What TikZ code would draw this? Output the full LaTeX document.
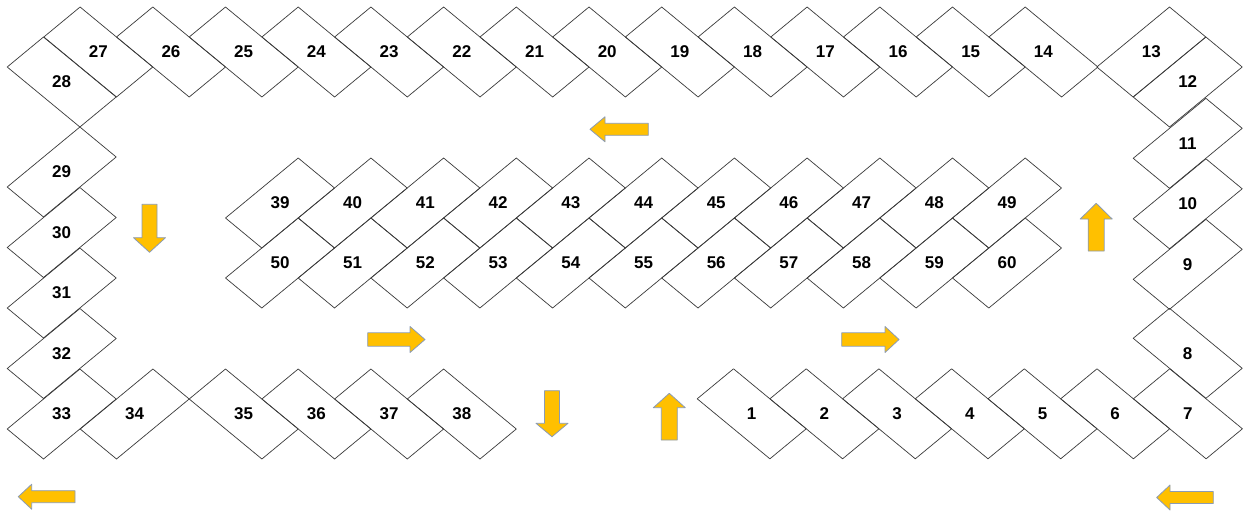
\documentclass[tikz,border=0pt]{standalone}
\usepackage{fontspec}
\setmainfont{Liberation Sans}
\usetikzlibrary{calc}

\begin{document}
\begin{tikzpicture}[
    x=1pt,
    y=-1pt,
    line join=round,
    slot/.style={draw=slotgray, line width=0.7pt},
    num/.style={font=\fontsize{17}{20}\selectfont\bfseries, text=black, inner sep=0pt},
    flow/.style={fill=flowyellow, draw=flowedge, line width=0.8pt}
]

% -------------------------------------------------
% Palette
% -------------------------------------------------
\definecolor{slotgray}{HTML}{3A3A3A}   % stall outline
\definecolor{flowyellow}{HTML}{FFC000} % driving arrows
\definecolor{flowedge}{HTML}{8A9BB5}   % arrow rim

\useasboundingbox[fill=white] (0,0) rectangle (1247,512);

% -------------------------------------------------
% Stall shapes (A leans down-right, B leans up-right)
% -------------------------------------------------
\def\slotA#1#2{(#1-18.2,#2-45) -- ++(72.7,60) -- ++(-36.3,30) -- ++(-72.7,-60) -- cycle}
\def\slotB#1#2{(#1+18.2,#2-45) -- ++(36.3,30) -- ++(-72.7,60) -- ++(-36.3,-30) -- cycle}

% -------------------------------------------------
% Top row 27 ... 14
% -------------------------------------------------
\foreach \n [count=\i from 0, evaluate=\i as \cx using 98.3+72.7*\i] in {27,26,...,14} {
    \draw[slot] \slotA{\cx}{52};
    \node[num] (s\n) at (\cx,52) {\n};
}

% Corners
\draw[slot] \slotA{61.7}{82};
\node[num] (s28) at (61.7,82) {28};
\draw[slot] \slotB{1151.3}{52};
\node[num] (s13) at (1151.3,52) {13};
\draw[slot] \slotB{1187.7}{82};
\node[num] (s12) at (1187.7,82) {12};

% -------------------------------------------------
% Right column 11 ... 8
% -------------------------------------------------
\foreach \n/\cy in {11/143.3,10/203.8,9/264.3} {
    \draw[slot] \slotB{1187.7}{\cy};
    \node[num] (s\n) at (1187.7,\cy) {\n};
}
\draw[slot] \slotA{1187.7}{353.3};
\node[num] (s8) at (1187.7,353.3) {8};

% -------------------------------------------------
% Bottom right 1 ... 7
% -------------------------------------------------
\foreach \n [count=\i from 0, evaluate=\i as \cx using 751.7+72.7*\i] in {1,...,7} {
    \draw[slot] \slotA{\cx}{413.8};
    \node[num] (s\n) at (\cx,413.8) {\n};
}

% -------------------------------------------------
% Left column 29 ... 33, bottom left 34 ... 38
% -------------------------------------------------
\foreach \n [count=\i from 0, evaluate=\i as \cy using 172+60.5*\i] in {29,...,33} {
    \draw[slot] \slotB{61.7}{\cy};
    \node[num] (s\n) at (61.7,\cy) {\n};
}
\draw[slot] \slotB{134.7}{414};
\node[num] (s34) at (134.7,414) {34};
\foreach \n [count=\i from 0, evaluate=\i as \cx using 243.7+72.7*\i] in {35,...,38} {
    \draw[slot] \slotA{\cx}{414};
    \node[num] (s\n) at (\cx,414) {\n};
}

% -------------------------------------------------
% Middle island 39 ... 60
% -------------------------------------------------
\foreach \n [count=\i from 0, evaluate=\i as \cx using 280+72.7*\i] in {39,...,49} {
    \draw[slot] \slotB{\cx}{203};
    \node[num] (s\n) at (\cx,203) {\n};
}
\foreach \n [count=\i from 0, evaluate=\i as \cx using 280+72.7*\i] in {50,...,60} {
    \draw[slot] \slotB{\cx}{263};
    \node[num] (s\n) at (\cx,263) {\n};
}

% -------------------------------------------------
% Driving direction arrows
% -------------------------------------------------
% left
\foreach \tip/\base/\tail/\y in {590/605/648.3/129.3, 18.3/31.7/75/496.7, 1156.7/1170/1213.3/497.5} {
    \draw[flow] (\tip,\y) -- (\base,\y-12.5) -- (\base,\y-6) -- (\tail,\y-6)
        -- (\tail,\y+6) -- (\base,\y+6) -- (\base,\y+12.5) -- cycle;
}
% right
\foreach \tail/\base/\tip in {367.7/410/425, 841.7/885/899} {
    \draw[flow] (\tip,339.5) -- (\base,339.5-13) -- (\base,339.5-6.7) -- (\tail,339.5-6.7)
        -- (\tail,339.5+6.7) -- (\base,339.5+6.7) -- (\base,339.5+13) -- cycle;
}
% down
\foreach \x/\top/\base/\tip in {149.5/204.3/237.7/252.3, 552/390.7/423.3/436.7} {
    \draw[flow] (\x,\tip) -- (\x-16,\base) -- (\x-7.5,\base) -- (\x-7.5,\top)
        -- (\x+7.5,\top) -- (\x+7.5,\base) -- (\x+16,\base) -- cycle;
}
% up
\foreach \x/\bot/\base/\tip in {1096.2/251/219/203.3, 669.3/440/407.7/393.3} {
    \draw[flow] (\x,\tip) -- (\x-16,\base) -- (\x-8,\base) -- (\x-8,\bot)
        -- (\x+8,\bot) -- (\x+8,\base) -- (\x+16,\base) -- cycle;
}

\end{tikzpicture}
\end{document}
